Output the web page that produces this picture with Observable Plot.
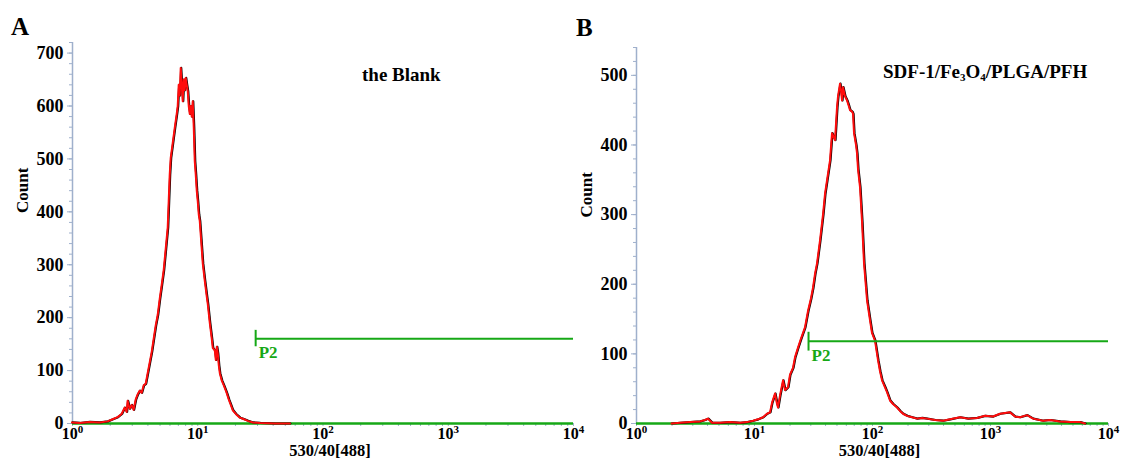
<!DOCTYPE html>
<html><head><meta charset="utf-8">
<script src="https://cdn.jsdelivr.net/npm/d3@7"></script>
<script src="https://cdn.jsdelivr.net/npm/@observablehq/plot@0.6"></script>
<style>
html,body{margin:0;padding:0;background:#fff;}
#wrap{position:relative;width:1124px;height:462px;overflow:hidden;background:#fff;}
#wrap .panel{position:absolute;top:0;}
#overlay{position:absolute;left:0;top:0;pointer-events:none;}
</style></head><body><div id="wrap"></div>
<script>
// ---- data ----
const decadeTicks = [1, 10, 100, 1000, 10000];
const decadeExp = ["0", "1", "2", "3", "4"];
const minorMult = [2, 3, 4, 5, 6, 7, 8, 9];

const countTicksA = [0, 100, 200, 300, 400, 500, 600, 700];
const countTicksB = [0, 100, 200, 300, 400, 500];

const blankX = [1, 1.148, 1.38, 1.66, 1.923, 2.109, 2.312, 2.489, 2.63, 2.729, 2.78, 2.884, 2.992, 3.105, 3.221, 3.342, 3.467, 3.597, 3.733, 3.873, 4.018, 4.169, 4.325, 4.487, 4.656, 4.831, 5.012, 5.2, 5.395, 5.598, 5.808, 5.916, 6.026, 6.138, 6.368, 6.607, 6.855, 6.982, 7.112, 7.244, 7.379, 7.516, 7.656, 7.798, 7.943, 8.091, 8.241, 8.395, 8.551, 8.71, 8.872, 9.036, 9.204, 9.376, 9.55, 9.727, 9.908, 10.09, 10.28, 10.47, 10.86, 11.07, 11.48, 11.91, 12.13, 12.59, 13.06, 13.3, 13.8, 14.06, 14.32, 14.59, 14.86, 15.14, 15.7, 16.29, 16.9, 17.22, 17.86, 18.53, 19.23, 20.32, 21.88, 23.12, 25.35, 27.8, 31.62, 41.69, 54.95];
const blankCount = [2, 1, 3, 2, 4, 8, 12, 18, 30, 22, 43, 28, 35, 26, 45, 55, 62, 58, 72, 75, 95, 115, 135, 160, 185, 205, 235, 262, 290, 330, 370, 420, 470, 502, 530, 558, 585, 600, 640, 620, 672, 640, 609, 650, 630, 653, 640, 628, 600, 585, 600, 580, 609, 560, 496, 470, 440, 420, 395, 383, 330, 302, 270, 240, 226, 190, 160, 143, 138, 120, 145, 132, 110, 95, 81, 72, 62, 57, 45, 35, 25, 18, 11, 9, 5, 2, 1, 0, 0];

const sdfX = [2, 2.36, 2.87, 3.49, 3.84, 4.07, 4.41, 5.15, 6.26, 7.61, 8.73, 9.81, 10.81, 11.92, 12.88, 13.67, 14.22, 15.07, 15.67, 15.97, 16.6, 17.61, 18.32, 19.41, 20.18, 21.41, 22.25, 23.6, 25.02, 27.04, 28.71, 30.41, 31.62, 32.89, 34.2, 36.26, 38.44, 39.98, 41.56, 44.07, 45.83, 48.59, 50.52, 51.52, 53.57, 54.63, 55.7, 56.8, 59.06, 61.41, 63.86, 65.12, 67.71, 69.05, 70.41, 73.21, 74.66, 76.13, 79.16, 82.31, 85.58, 90.74, 96.21, 100, 106, 112.4, 116.9, 121.6, 128.9, 134, 142.1, 150.6, 162.9, 172.7, 183.1, 198, 218.3, 240.6, 265.2, 292.3, 341.8, 399.6, 458.2, 557, 651.2, 776.1, 907.4, 1060, 1216, 1477, 1629, 1795, 2060, 2314, 2811, 3224, 3920, 4765, 5794, 6383];
const sdfCount = [0, 1, 2, 3, 5, 7, 1, 1, 2, 1, 2, 4, 6, 9, 14, 16, 30, 43, 28, 23, 40, 62, 48, 52, 70, 80, 95, 109, 122, 138, 162, 180, 195, 215, 230, 263, 300, 330, 349, 378, 417, 407, 454, 470, 488, 478, 464, 483, 470, 464, 455, 450, 448, 445, 417, 400, 388, 365, 339, 290, 230, 177, 148, 130, 119, 91, 75, 62, 52, 45, 33, 28, 23, 18, 14, 11, 9, 7, 8, 7, 5, 4, 6, 9, 7, 8, 11, 10, 14, 16, 10, 9, 12, 7, 4, 5, 3, 2, 2, 0];

// P2 gate for each panel
const gateX = [29, 28.7];
const gateY = [160, 118];
const gateLow = [145, 104];
const gateHigh = [176, 131];
const gateName = ["P2", "P2"];

const panelLetters = ["A", "B"];
const xLabel = "530/40[488]";
const yLabel = "Count";

// ---- styling ----
const GREEN = "#16a816";
const RED = "#ff0d0d";
const AXIS = "#9fb0cc";
const FONT = "'Liberation Serif', 'Times New Roman', serif";

function panel(cfg) {
  const data = cfg.xs.map((x, i) => ({x, y: cfg.ys[i]}));
  const minorX = decadeTicks.slice(0, -1).flatMap(d => minorMult.map(m => d * m));
  const minorY = d3.range(0, cfg.yMax + 1, 20);
  const gate = [{x: gateX[cfg.i], y: gateY[cfg.i], y1: gateLow[cfg.i], y2: gateHigh[cfg.i], x2: 10000, name: gateName[cfg.i]}];
  return Plot.plot({
    width: cfg.width, height: 462,
    marginLeft: cfg.mL, marginRight: cfg.mR, marginTop: cfg.mT, marginBottom: 39,
    style: {background: "none", overflow: "visible", fontFamily: FONT, fontSize: "17px", fontWeight: "bold", color: "#000"},
    x: {type: "log", domain: [1, 10000]},
    y: {domain: [0, cfg.yMax]},
    marks: [
      Plot.axisY({ticks: minorY, tickSize: 3, tickFormat: () => "", stroke: AXIS, label: null}),
      Plot.axisY({ticks: cfg.yTicks, tickSize: 5, tickPadding: 4, stroke: AXIS, fill: "#000", fontSize: 18, fontWeight: "bold", label: null}),
      Plot.axisX({ticks: minorX, tickSize: 3, tickFormat: () => "", stroke: AXIS, label: null}),
      Plot.axisX({ticks: decadeTicks, tickSize: 3, tickPadding: 1, stroke: AXIS, fill: "#000", fontSize: 16, fontWeight: "bold", label: null,
        tickFormat: d => "E" + decadeExp[decadeTicks.indexOf(d)]}),
      Plot.ruleX([1], {stroke: AXIS, strokeWidth: 1.5}),
      Plot.ruleY([0], {stroke: GREEN, strokeWidth: 2.5}),
      Plot.line(data, {x: "x", y: "y", stroke: "#000", strokeWidth: 2.2}),
      Plot.line(data, {x: "x", y: "y", stroke: RED, strokeWidth: 2, dx: -0.5}),
      Plot.ruleY(gate, {y: "y", x1: "x", x2: "x2", stroke: GREEN, strokeWidth: 2}),
      Plot.ruleX(gate, {x: "x", y1: "y1", y2: "y2", stroke: GREEN, strokeWidth: 2}),
      Plot.text(gate, {x: "x", y: "y", text: "name", dx: 3, dy: 14, textAnchor: "start", fill: GREEN, fontSize: 17, fontWeight: "bold"}),
      Plot.text([yLabel], {frameAnchor: "left", dx: -50, dy: cfg.countDy, rotate: -90, fontSize: 17, fontWeight: "bold", fill: "#000"}),
      Plot.text([xLabel], {frameAnchor: "bottom", dx: 7, dy: 32, fontSize: 16.5, fontWeight: "bold", fill: "#000"})
    ]
  });
}

function supTicks(svg) {
  svg.querySelectorAll('g[aria-label="x-axis tick label"] text').forEach(t => {
    const s = t.textContent;
    if (!s || s[0] !== "E") return;
    t.textContent = "";
    const ns = "http://www.w3.org/2000/svg";
    const a = document.createElementNS(ns, "tspan"); a.textContent = "10"; t.appendChild(a);
    const b = document.createElementNS(ns, "tspan"); b.textContent = s.slice(1);
    b.setAttribute("dy", "-6"); b.setAttribute("font-size", "11"); t.appendChild(b);
  });
}

const wrap = document.getElementById("wrap");
const pA = panel({i: 0, xs: blankX, ys: blankCount, yMax: 720, yTicks: countTicksA, width: 600, mL: 72, mR: 27, mT: 42, countDy: -20});
const pB = panel({i: 1, xs: sdfX, ys: sdfCount, yMax: 540, yTicks: countTicksB, width: 564, mL: 76, mR: 16, mT: 47, countDy: -18});
[[pA, 0], [pB, 560]].forEach(([p, left]) => {
  p.classList.add("panel"); p.style.left = left + "px"; supTicks(p); wrap.appendChild(p);
});

// overlay: panel letters and panel titles
const ns = "http://www.w3.org/2000/svg";
const ov = document.createElementNS(ns, "svg");
ov.setAttribute("id", "overlay"); ov.setAttribute("width", 1124); ov.setAttribute("height", 462);
ov.setAttribute("font-family", FONT); ov.setAttribute("font-weight", "bold");
function txt(x, y, size, parts) {
  const t = document.createElementNS(ns, "text");
  t.setAttribute("x", x); t.setAttribute("y", y); t.setAttribute("font-size", size);
  let prevSub = false;
  parts.forEach(([s, sub]) => {
    const sp = document.createElementNS(ns, "tspan");
    sp.textContent = s;
    if (sub) { sp.setAttribute("font-size", 11); sp.setAttribute("dy", 3); }
    else if (prevSub) { sp.setAttribute("dy", -3); }
    prevSub = !!sub;
    t.appendChild(sp);
  });
  ov.appendChild(t);
}
txt(11, 35, 25, [[panelLetters[0]]]);
txt(576, 36, 25, [[panelLetters[1]]]);
txt(362, 81, 19, [["the Blank"]]);
txt(883, 78, 19, [["SDF-1/Fe"], ["3", true], ["O"], ["4", true], ["/PLGA/PFH"]]);
wrap.appendChild(ov);
</script></body></html>
